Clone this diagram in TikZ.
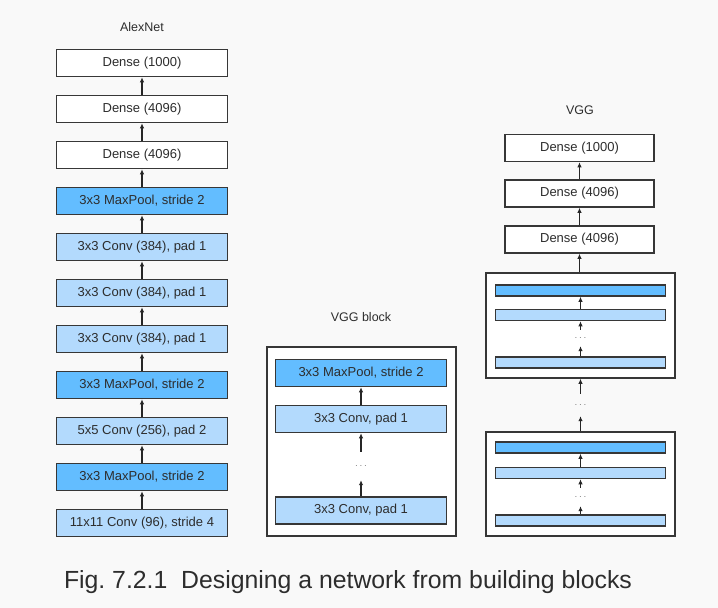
\documentclass[tikz,border=0pt]{standalone}
\usepackage{fontspec}
\setmainfont{Liberation Sans}
\usepackage{tikz}
\usetikzlibrary{arrows.meta, positioning}
\definecolor{poolblue}{RGB}{99, 189, 255}
\definecolor{convblue}{RGB}{179, 218, 253}
\definecolor{edgegray}{RGB}{55, 55, 55}
\definecolor{inkgray}{RGB}{45, 45, 45}
\definecolor{bggray}{RGB}{249, 249, 249}

\begin{document}
\begin{tikzpicture}[x=1pt, y=-1pt,
  layer/.style={draw=edgegray, line width=1.5pt, minimum width=171pt, minimum height=27pt, inner sep=0pt, text=inkgray, font=\fontsize{13}{15}\selectfont},
  dense/.style={layer, fill=white},
  conv/.style={layer, fill=convblue},
  pool/.style={layer, fill=poolblue},
  bar/.style={draw=edgegray, line width=1.5pt, minimum width=170pt, minimum height=11pt, inner sep=0pt},
  frame/.style={draw=edgegray, line width=1.5pt, fill=white, inner sep=0pt},
  dots/.style={text=black!55, font=\normalsize, inner sep=0pt, minimum width=12pt},
  flow/.style={-{Latex[length=5pt, width=4.5pt]}, line width=1.3pt, black!85},
  title/.style={text=inkgray, font=\fontsize{12.5}{15}\selectfont}]

  % Page
  \fill[bggray] (0, 0) rectangle (718, 608);
  \useasboundingbox (0, 0) rectangle (718, 608);

  % AlexNet column (bottom to top)
  \node[title] (alextitle) at (142, 27) {AlexNet};
  \node[conv] (a1) at (142, 523) {11x11 Conv (96), stride 4};
  \node[pool] (a2) at (142, 477) {3x3 MaxPool, stride 2};
  \node[conv] (a3) at (142, 431) {5x5 Conv (256), pad 2};
  \node[pool] (a4) at (142, 385) {3x3 MaxPool, stride 2};
  \node[conv] (a5) at (142, 339) {3x3 Conv (384), pad 1};
  \node[conv] (a6) at (142, 293) {3x3 Conv (384), pad 1};
  \node[conv] (a7) at (142, 247) {3x3 Conv (384), pad 1};
  \node[pool] (a8) at (142, 201) {3x3 MaxPool, stride 2};
  \node[dense] (a9) at (142, 155) {Dense (4096)};
  \node[dense] (a10) at (142, 109) {Dense (4096)};
  \node[dense] (a11) at (142, 63) {Dense (1000)};

  \draw[flow] (a1) -- (a2);
  \draw[flow] (a2) -- (a3);
  \draw[flow] (a3) -- (a4);
  \draw[flow] (a4) -- (a5);
  \draw[flow] (a5) -- (a6);
  \draw[flow] (a6) -- (a7);
  \draw[flow] (a7) -- (a8);
  \draw[flow] (a8) -- (a9);
  \draw[flow] (a9) -- (a10);
  \draw[flow] (a10) -- (a11);

  % VGG block
  \node[title] (blocktitle) at (361, 317) {VGG block};
  \node[frame, minimum width=189pt, minimum height=189pt] (blockframe) at (361.5, 441.5) {};
  \node[conv] (b1) at (361, 510.5) {3x3 Conv, pad 1};
  \node[dots, minimum height=28pt] (bdots) at (361, 466) {$\cdots$};
  \node[conv] (b2) at (361, 419) {3x3 Conv, pad 1};
  \node[pool] (b3) at (361, 373) {3x3 MaxPool, stride 2};

  \draw[flow] (b1) -- (bdots);
  \draw[flow] (bdots) -- (b2);
  \draw[flow] (b2) -- (b3);

  % VGG: two stacked blocks, then dense layers
  \node[title] (vggtitle) at (580, 110) {VGG};
  \node[frame, minimum width=189pt, minimum height=104pt] (vlow) at (580.5, 484) {};
  \node[bar, fill=convblue] (l1) at (580.5, 520.5) {};
  \node[dots, minimum height=18pt] (ldots) at (580.5, 497) {$\cdots$};
  \node[bar, fill=convblue] (l2) at (580.5, 473) {};
  \node[bar, fill=poolblue] (l3) at (580.5, 447.5) {};

  \node[dots, minimum height=22pt] (vmid) at (580.5, 405) {$\cdots$};

  \node[frame, minimum width=189pt, minimum height=105pt] (vup) at (580.5, 325.5) {};
  \node[bar, fill=convblue] (u1) at (580.5, 362.5) {};
  \node[dots, minimum height=16pt] (udots) at (580.5, 338) {$\cdots$};
  \node[bar, fill=convblue] (u2) at (580.5, 315) {};
  \node[bar, fill=poolblue] (u3) at (580.5, 290.5) {};

  \node[dense, minimum width=149pt] (v1) at (579.5, 239.5) {Dense (4096)};
  \node[dense, minimum width=149pt] (v2) at (579.5, 193.5) {Dense (4096)};
  \node[dense, minimum width=149pt] (v3) at (579.5, 148) {Dense (1000)};

  \draw[flow] (l1) -- (ldots);
  \draw[flow] (ldots) -- (l2);
  \draw[flow] (l2) -- (l3);
  \draw[flow] (vlow) -- (vmid);
  \draw[flow] (vmid) -- (vup);
  \draw[flow] (u1) -- (udots);
  \draw[flow] (udots) -- (u2);
  \draw[flow] (u2) -- (u3);
  \draw[flow] (vup.north -| v1) -- (v1);
  \draw[flow] (v1) -- (v2);
  \draw[flow] (v2) -- (v3);

  % Caption
  \node[text=inkgray, font=\fontsize{24.8}{28}\selectfont] (caption) at (348, 582) {Fig.~7.2.1\ \ Designing a network from building blocks};
\end{tikzpicture}
\end{document}
